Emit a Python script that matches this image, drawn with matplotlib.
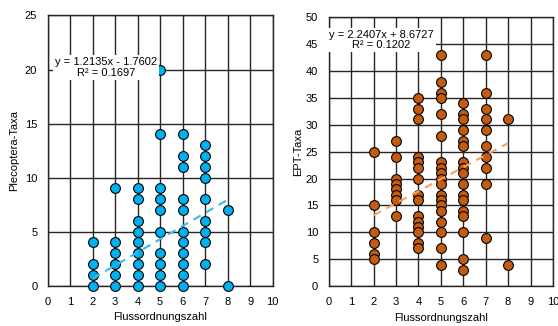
import numpy as np
from matplotlib import pyplot as plt

plt.rcParams['font.family'] = ['Liberation Sans', 'DejaVu Sans']

# Plecoptera-Taxa per Flussordnungszahl
pleco_x = [2, 2, 2, 2,
           3, 3, 3, 3, 3, 3,
           4, 4, 4, 4, 4, 4, 4, 4, 4,
           5, 5, 5, 5, 5, 5, 5, 5, 5, 5,
           6, 6, 6, 6, 6, 6, 6, 6, 6, 6, 6,
           7, 7, 7, 7, 7, 7, 7, 7, 7,
           8, 8]
pleco_y = [0, 1, 2, 4,
           0, 1, 2, 3, 4, 9,
           0, 1, 2, 3, 4, 5, 6, 8, 9,
           0, 1, 2, 3, 5, 7, 8, 9, 14, 20,
           0, 1, 2, 3, 4, 5, 7, 8, 11, 12, 14,
           2, 4, 5, 6, 8, 10, 11, 12, 13,
           0, 7]

# EPT-Taxa per Flussordnungszahl
ept_x = [2] * 6 + [3] * 8 + [4] * 15 + [5] * 19 + [6] * 17 + [7] * 10 + [8] * 2
ept_y = [25, 15, 10, 8, 6, 5,
         27, 24, 20, 19, 18, 17, 16, 13,
         35, 33, 31, 24, 23, 22, 20, 17, 16, 13, 12, 11, 10, 8, 7,
         43, 38, 36, 35, 32, 28, 23, 22, 21, 20, 19, 17, 16, 15, 14, 12, 10, 7, 4,
         34, 32, 31, 29, 27, 26, 23, 22, 21, 19, 17, 16, 14, 13, 10, 5, 3,
         43, 36, 33, 31, 29, 26, 24, 22, 19, 9,
         31, 4]

pleco_fit = (1.2135, -1.7602, 0.1697)
ept_fit = (2.2407, 8.6727, 0.1202)

fig = plt.figure(figsize=(5.58, 3.26), dpi=100)
ax1 = fig.add_axes([0.0855, 0.1236, 0.403, 0.829])
ax2 = fig.add_axes([0.589, 0.1227, 0.402, 0.824])

fs = 8


def panel(ax, x, y, fit, ymax, ystep, color, linecolor, ylabel, txt_xy, ylpad):
    ax.set_xlim(0, 10)
    ax.set_ylim(0, ymax)
    ax.set_xticks(np.arange(0, 11, 1))
    ax.set_yticks(np.arange(0, ymax + 1, ystep))
    ax.grid(True, color='#262626', linewidth=1.0)
    ax.set_axisbelow(True)
    for s in ax.spines.values():
        s.set_color('#262626')
        s.set_linewidth(1.0)
    ax.tick_params(length=0, labelsize=fs)
    ax.tick_params(axis='x', pad=8)
    ax.tick_params(axis='y', pad=7.5)
    ax.scatter(x, y, s=50, c=color, edgecolors='black', linewidths=0.8, zorder=3, clip_on=False)
    xs = np.array([2, 8])
    ax.plot(xs, fit[0] * xs + fit[1], linestyle=(0, (4, 3)), color=linecolor, linewidth=1.5, zorder=4)
    sign = '+' if fit[1] >= 0 else '-'
    ax.text(txt_xy[0], txt_xy[1],
            'y = {:.4f}x {} {:.4f}\nR² = {:.4f}'.format(fit[0], sign, abs(fit[1]), fit[2]),
            ha='center', va='center', fontsize=fs, linespacing=1.05,
            bbox=dict(facecolor='white', edgecolor='none', pad=1.5), zorder=5)
    ax.set_xlabel('Flussordnungszahl', fontsize=fs, labelpad=4)
    ax.set_ylabel(ylabel, fontsize=fs, labelpad=ylpad)


panel(ax1, pleco_x, pleco_y, pleco_fit, 25, 5, '#00B0F0', '#33BBF0', 'Plecoptera-Taxa', (2.6, 20.2), 4)
panel(ax2, ept_x, ept_y, ept_fit, 50, 5, '#C55A11', '#F4A15D', 'EPT-Taxa', (2.35, 45.8), 2)

plt.savefig('out.png', dpi=100)
